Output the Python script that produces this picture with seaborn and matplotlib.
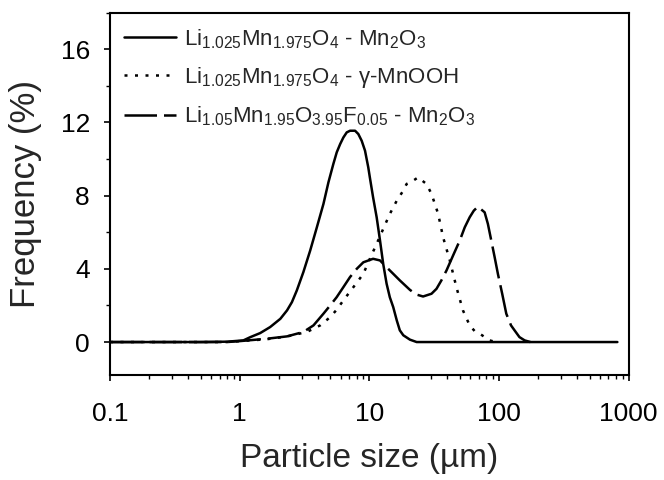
import matplotlib
matplotlib.use("Agg")
import matplotlib.pyplot as plt
import matplotlib.ticker as mticker
import seaborn as sns
import numpy as np

# ---- data ----
x_solid = [0.1, 0.5, 0.8, 1.068, 1.21, 1.44, 1.72, 2.06, 2.32, 2.53, 2.76, 3.10, 3.50,
           3.94, 4.43, 4.84, 5.28, 5.61, 5.96, 6.31, 6.70, 7.11, 7.77, 8.23, 8.74, 9.27,
           9.82, 10.1, 10.7, 11.4, 12.1, 12.8, 13.6, 14.4, 15.3, 16.3, 17.2, 18.3, 20.6,
           23.2, 100, 820]
y_solid = [0, 0, 0.02, 0.09, 0.27, 0.49, 0.82, 1.27, 1.73, 2.18, 2.82, 3.82, 5.0,
           6.27, 7.55, 8.73, 9.73, 10.37, 10.82, 11.18, 11.46, 11.55, 11.55, 11.37, 11.0, 10.46,
           9.55, 9.0, 7.91, 6.82, 5.55, 4.28, 3.19, 2.45, 1.91, 1.18, 0.64, 0.37, 0.13,
           0.0, 0, 0]

x_dot = [0.1, 0.8, 1.0, 1.6, 2.3, 3.3, 4.18, 4.99, 5.61, 6.3, 7.54, 9.0, 10.1, 11.4,
         12.8, 14.4, 16.3, 18.3, 19.4, 21.8, 23.8, 27.6, 30.2, 34, 37.1, 41.8, 47,
         52.8, 59.5, 65, 71, 84.8, 95]
y_dot = [0, 0, 0.05, 0.15, 0.3, 0.55, 0.91, 1.36, 1.77, 2.27, 3.0, 3.73, 4.55, 5.37,
         6.18, 7.0, 7.73, 8.28, 8.64, 8.82, 9.0, 8.64, 8.1, 7.0, 5.73, 4.46, 3.0,
         1.73, 0.91, 0.6, 0.46, 0.09, 0]

x_dash = [0.1, 0.8, 1.0, 1.62, 2.32, 3.1, 3.71, 4.43, 4.99, 5.6, 6.31, 7.1, 8.0, 9.0,
          10.7, 12.1, 13.6, 15.3, 17.2, 20.6, 23.0, 26, 30.2, 33, 36, 39.4, 44.3, 49.9,
          54.5, 59.5, 64, 68.8, 77.6, 82.2, 87.3, 92.7, 98.2, 106, 114, 124, 132, 144,
          158, 175]
y_dash = [0, 0, 0.05, 0.18, 0.31, 0.55, 0.91, 1.55, 2.0, 2.45, 3.0, 3.55, 4.0, 4.36,
          4.55, 4.46, 4.09, 3.73, 3.37, 2.85, 2.6, 2.49, 2.64, 2.91, 3.37, 3.91, 4.73, 5.55,
          6.27, 6.82, 7.18, 7.4, 7.09, 6.46, 5.55, 4.64, 3.73, 2.64, 1.55, 0.91, 0.64, 0.27,
          0.09, 0]

labels = [r"Li$_{1.025}$Mn$_{1.975}$O$_{4}$ - Mn$_{2}$O$_{3}$",
          r"Li$_{1.025}$Mn$_{1.975}$O$_{4}$ - γ-MnOOH",
          r"Li$_{1.05}$Mn$_{1.95}$O$_{3.95}$F$_{0.05}$ - Mn$_{2}$O$_{3}$"]

x_ticks = [0.1, 1, 10, 100, 1000]
x_ticklabels = ["0.1", "1", "10", "100", "1000"]
y_ticks = [0, 4, 8, 12, 16]

# ---- style ----
sns.set_theme(style="ticks")
plt.rcParams["font.family"] = ["Liberation Sans", "DejaVu Sans"]
plt.rcParams["mathtext.fontset"] = "custom"
plt.rcParams["mathtext.rm"] = "Liberation Sans"
plt.rcParams["mathtext.it"] = "Liberation Sans:italic"
plt.rcParams["mathtext.bf"] = "Liberation Sans:bold"

fig = plt.figure(figsize=(6.64, 4.8), dpi=100)
ax = fig.add_axes([0.1657, 0.2188, 0.7809, 0.7547])

lw = 1.8
sns.lineplot(x=x_solid, y=y_solid, ax=ax, color="black", linewidth=lw,
             linestyle="-", label=labels[0])
sns.lineplot(x=x_dot, y=y_dot, ax=ax, color="black", linewidth=lw,
             linestyle=(0, (1.2, 3.0)), label=labels[1])
sns.lineplot(x=x_dash, y=y_dash, ax=ax, color="black", linewidth=lw,
             linestyle=(0, (13, 2.8)), label=labels[2])

ax.set_xscale("log")
ax.set_xlim(0.1, 1000)
ax.set_ylim(-1.8, 18)
ax.xaxis.set_major_locator(mticker.FixedLocator(x_ticks))
ax.xaxis.set_major_formatter(mticker.FixedFormatter(x_ticklabels))
ax.xaxis.set_minor_locator(mticker.LogLocator(base=10, subs=np.arange(2, 10), numticks=20))
ax.xaxis.set_minor_formatter(mticker.NullFormatter())
ax.yaxis.set_major_locator(mticker.FixedLocator(y_ticks))
ax.yaxis.set_minor_locator(mticker.MultipleLocator(2))

for s in ax.spines.values():
    s.set_visible(True)
    s.set_linewidth(1.5)
    s.set_color("black")

ax.tick_params(axis="both", which="major", direction="out", length=4.5, width=1.2,
               colors="black", labelsize=19)
ax.tick_params(axis="both", which="minor", direction="out", length=2.8, width=1.0,
               colors="black")
ax.tick_params(axis="x", which="major", pad=15)
ax.tick_params(axis="y", which="major", pad=10)

ax.set_xlabel("Particle size (µm)", fontsize=24, labelpad=12)
ax.set_ylabel("Frequency (%)", fontsize=25, labelpad=13)

leg = ax.legend(loc="upper left", bbox_to_anchor=(0.0, 1.0), frameon=False,
                fontsize=16, handlelength=2.34, handletextpad=0.35,
                labelspacing=0.65, borderaxespad=0.15, borderpad=0.5)

fig.savefig("out.png", dpi=100)
